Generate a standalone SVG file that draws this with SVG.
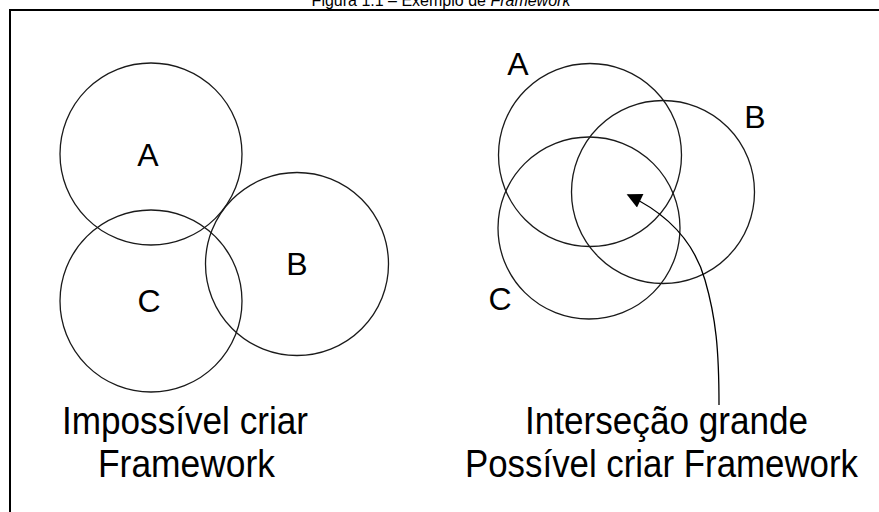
<svg xmlns="http://www.w3.org/2000/svg" width="879" height="512" viewBox="0 0 879 512">
<defs>
<style>
.c{fill:none;stroke:#1a1a1a;stroke-width:1.3}
.lbl{font-family:"Liberation Sans",Arial,sans-serif;font-size:32px;fill:#000;text-anchor:middle}
.big{font-family:"Liberation Sans",Arial,sans-serif;font-size:38px;fill:#000}
.title{font-family:"Liberation Sans",Arial,sans-serif;font-size:16px;fill:#000;text-anchor:middle}
</style>
<marker id="ah" viewBox="0 0 10 10" refX="9" refY="5" markerWidth="17" markerHeight="15" markerUnits="userSpaceOnUse" orient="auto">
<path d="M0,0 L10,5 L0,10 z" fill="#000"/>
</marker>
</defs>
<rect width="879" height="512" fill="#fff"/>
<text class="title" x="441" y="6">Figura 1.1 – Exemplo de <tspan font-style="italic">Framework</tspan></text>
<rect x="10" y="10" width="900" height="520" fill="none" stroke="#000" stroke-width="2"/>
<g id="left">
<g id="left-A"><circle class="c" cx="151" cy="154" r="91"/><text class="lbl" x="148" y="166">A</text></g>
<g id="left-C"><circle class="c" cx="151" cy="301" r="91"/><text class="lbl" x="149" y="312">C</text></g>
<g id="left-B"><circle class="c" cx="297" cy="264" r="91.5"/><text class="lbl" x="297" y="275">B</text></g>
<text class="big" x="62" y="434" textLength="246" lengthAdjust="spacingAndGlyphs">Impossível criar</text>
<text class="big" x="98" y="477" textLength="177" lengthAdjust="spacingAndGlyphs">Framework</text>
</g>
<g id="right">
<g id="right-A"><circle class="c" cx="590" cy="155" r="91.5"/><text class="lbl" x="518" y="75">A</text></g>
<g id="right-B"><circle class="c" cx="663" cy="192" r="91.5"/><text class="lbl" x="755" y="128">B</text></g>
<g id="right-C"><circle class="c" cx="589" cy="228" r="91"/><text class="lbl" x="500" y="310">C</text></g>
<text class="big" x="525" y="434" textLength="283" lengthAdjust="spacingAndGlyphs">Interseção grande</text>
<text class="big" x="465" y="477" textLength="393" lengthAdjust="spacingAndGlyphs">Possível criar Framework</text>
</g>
<g id="connectors">
<path d="M719,405 C719,350 716,318 705,280 C695,245 670,215 628,195" fill="none" stroke="#000" stroke-width="1.3" marker-end="url(#ah)"/>
</g>
</svg>
